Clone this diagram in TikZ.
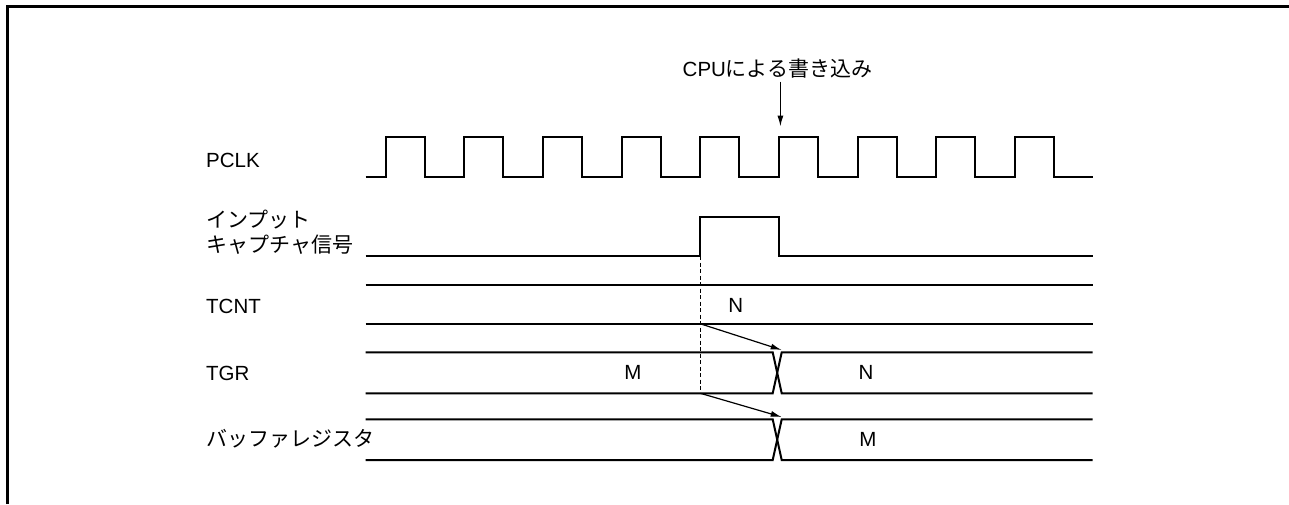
\documentclass[tikz,border=0pt]{standalone}
\usepackage{fontspec}
\setmainfont{Liberation Sans}
\newfontfamily\jpfont{Noto Sans CJK JP}
\usetikzlibrary{arrows.meta}
\tikzset{
  sig/.style={line width=2pt, line join=miter},
  frameline/.style={line width=2.7pt},
  lbl/.style={anchor=west, inner sep=0pt, font=\fontsize{20.5}{24}\selectfont},
  jplbl/.style={anchor=west, inner sep=0pt, align=left, font=\jpfont\fontsize{21}{25}\selectfont},
  val/.style={inner sep=0pt, font=\fontsize{20.5}{24}\selectfont},
  ptr/.style={line width=1.2pt, -{Latex[length=11pt,width=6pt]}},
  guide/.style={line width=1.2pt, dash pattern=on 4pt off 2.5pt}
}
\begin{document}
\begin{tikzpicture}[x=1pt,y=-1pt]
\useasboundingbox (0,0) rectangle (1289,504);
% frame (left and top edges visible)
\draw[frameline] (7.3,504) -- (7.3,6.7) -- (1289,6.7);

% labels
\node[lbl] (pclk) at (206,160) {PCLK};
\node[jplbl] (icap) at (206,232.5) {インプット\\キャプチャ信号};
\node[lbl] (tcnt) at (206,306) {TCNT};
\node[lbl] (tgr) at (206,373) {TGR};
\node[jplbl] (buf) at (206,438.5) {バッファレジスタ};

% CPU write annotation
\node[anchor=west, inner sep=0pt] (cpu) at (682.5,69) {\fontsize{20.5}{24}\selectfont CPU\jpfont\fontsize{21}{25}\selectfont による書き込み};
\coordinate (cpuTop) at (780.4,81.7);
\coordinate (cpuTip) at (780.4,126.5);
\draw[ptr] (cpuTop) -- (cpuTip);

% PCLK
\draw[sig] (365.7,176.7)
  \foreach \k in {0,...,8}{ -- ({385.7+78.66*\k},176.7) -- ++(0,-40) -- ++(39,0) -- ++(0,40) }
  -- (1092.7,176.7);

% input capture
\coordinate (icRise) at (700.4,256);
\draw[sig] (365.7,256) -- (icRise) -- (700.4,216.7) -- (779,216.7) -- (779,256) -- (1092.7,256);

% TCNT
\draw[sig] (365.7,285) -- (1092.7,285);
\draw[sig] (365.7,323.8) -- (1092.7,323.8);
\node[val] (nT) at (735.7,305) {N};

% TGR
\draw[sig] (365.7,352.3) -- (772.7,352.3) -- (781.7,393.3) -- (1092.7,393.3);
\draw[sig] (365.7,393.3) -- (772.7,393.3) -- (781.7,352.3) -- (1092.7,352.3);
\node[val] (mG) at (633,372.5) {M};
\node[val] (nG) at (866,372.5) {N};

% buffer register
\draw[sig] (365.7,419.3) -- (772.7,419.3) -- (781.7,460) -- (1092.7,460);
\draw[sig] (365.7,460) -- (772.7,460) -- (781.7,419.3) -- (1092.7,419.3);
\node[val] (mB) at (868,439.5) {M};

% dashed guide and transfer arrows
\coordinate (dashEnd) at (700.4,390);
\draw[guide] (icRise) -- (dashEnd);
\coordinate (a1s) at (700.4,323.8);
\coordinate (a1e) at (781.7,350);
\coordinate (a2s) at (700.4,393.3);
\coordinate (a2e) at (781.7,417);
\draw[ptr] (a1s) -- (a1e);
\draw[ptr] (a2s) -- (a2e);
\end{tikzpicture}
\end{document}
